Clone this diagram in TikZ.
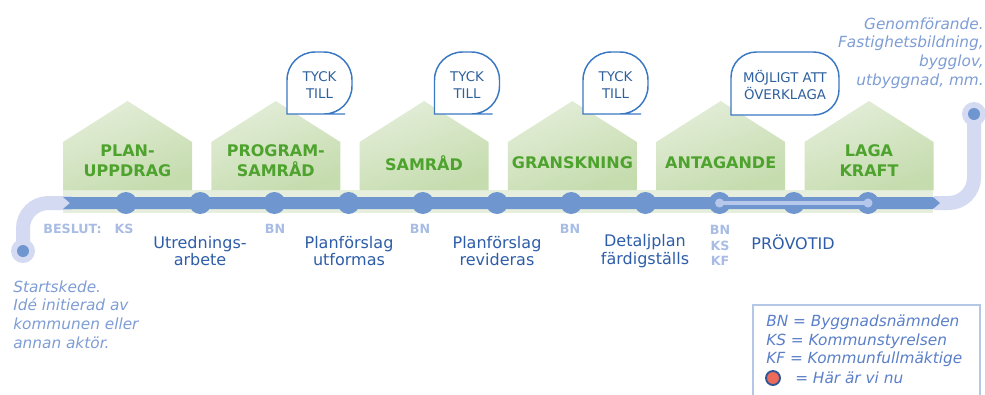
\documentclass[tikz,border=0pt]{standalone}
\usepackage{fontspec}
\setmainfont{DejaVu Sans}
\usepackage{tikz}

\definecolor{lineblue}{HTML}{6F96CF}
\definecolor{lavender}{HTML}{D3DAF1}
\definecolor{innerlight}{HTML}{B5C7EA}
\definecolor{bandgreen}{HTML}{E6EFDD}
\definecolor{houselight}{HTML}{E3EDD8}
\definecolor{housedark}{HTML}{C5DCAE}
\definecolor{housetext}{HTML}{4EA22E}
\definecolor{decision}{HTML}{A8BCE4}
\definecolor{textblue}{HTML}{2D5DA8}
\definecolor{bubbleblue}{HTML}{3A78C4}
\definecolor{notegrey}{HTML}{7E9DD5}
\definecolor{keyblue}{HTML}{5A7FC8}
\definecolor{keyframe}{HTML}{B4C7E7}
\definecolor{herered}{HTML}{EE6B5A}
\definecolor{herering}{HTML}{2F5597}

\begin{document}
\begin{tikzpicture}[x=0.75pt,y=-0.75pt,
  house/.style={top color=houselight, middle color=houselight, bottom color=housedark, shading angle=20},
  phase/.style={text=housetext, font=\fontsize{12}{15}\selectfont\bfseries, align=center},
  stop/.style={circle, fill=lineblue, minimum size=16.5pt, inner sep=0pt},
  track/.style={lavender, line width=10.5pt},
  who/.style={text=decision, font=\fontsize{9.5}{11.6}\selectfont\bfseries, align=center},
  work/.style={text=textblue, font=\fontsize{12}{13}\selectfont, align=center},
  bubble/.style={draw=bubbleblue, line width=1.1pt, fill=white},
  say/.style={text=bubbleblue!80!black, font=\fontsize{10}{12.75}\selectfont, align=center},
  note/.style={text=notegrey, font=\fontsize{11.5}{14}\selectfont\itshape, inner sep=0pt},
  key/.style={text=keyblue, font=\fontsize{11.5}{14}\selectfont\itshape, inner sep=0pt, align=left}]
\useasboundingbox (0,0) rectangle (985,394);

% green band and houses
\fill[bandgreen] (63,190) rectangle (933,213);
\foreach \i in {0,...,5}
  \shade[house] (63+148.3*\i,190) -- ++(0,-48) -- ++(64.5,-41) -- ++(64.5,41) -- ++(0,48) -- cycle;

\node[phase] (uppdrag) at (127.5,161) {PLAN-\\UPPDRAG};
\node[phase] (program) at (275.8,161) {PROGRAM-\\SAMRÅD};
\node[phase] (samrad) at (424,163) {SAMRÅD};
\node[phase] (granskning) at (572.4,163) {GRANSKNING};
\node[phase] (antagande) at (720.7,163) {ANTAGANDE};
\node[phase] (lagakraft) at (869,161) {LAGA\\KRAFT};

% start and end
\node[circle, fill=lavender, minimum size=18pt, inner sep=0pt] (start) at (23,251) {};
\node[circle, fill=lavender, minimum size=18pt, inner sep=0pt] (finish) at (974,114) {};
\coordinate (tail) at (72,203);
\coordinate (head) at (934,203);
\draw[track] (start.center) [rounded corners=19] -- (start.center |- tail) -- (tail);
\draw[track] (head) [rounded corners=19] -- (finish.center |- head) -- (finish.center);
\fill[lineblue] (start) circle (4.5pt);
\fill[lineblue] (finish) circle (4.5pt);

% timeline
\fill[lineblue] (63,197) -- (933,197) -- (940,203) -- (933,209) -- (63,209) -- (70,203) -- cycle;
\foreach \i in {0,...,10}
  \node[stop] (d\i) at (126+74.2*\i,203) {};
\draw[innerlight, line width=3pt] (d8.center) -- (d10.center);
\fill[innerlight] (d8) circle (3.4pt) (d10) circle (3.4pt);

% decisions
\node[who, anchor=east, inner sep=0pt] (beslut) at (102,229) {BESLUT:};
\node[who] (ks) at (124,229) {KS};
\node[who] (bn1) at (275,229) {BN};
\node[who] (bn2) at (420,229) {BN};
\node[who] (bn3) at (570,229) {BN};
\node[who] (bnkskf) at (720,245.5) {BN\\KS\\KF};

% work between decisions
\node[work] (utredning) at (200,251) {Utrednings-\\arbete};
\node[work] (utformas) at (349,251) {Planförslag\\utformas};
\node[work] (revideras) at (497,251) {Planförslag\\revideras};
\node[work] (detaljplan) at (645,251) {Detaljplan\\färdigställs};
\node[work] (provotid) at (793,242) {PRÖVOTID};

% bubbles
\foreach \x [count=\i] in {287,434.5,583} {
  \draw[bubble] (\x+30,114) -- (\x,114) -- (\x,83) [rounded corners=21] -- (\x,52) -- (\x+65,52) -- (\x+65,114) -- cycle;
  \node[say] (tyck\i) at (\x+32.5,85) {TYCK\\TILL};
}
\draw[bubble] (760,115) -- (731,115) -- (731,84) [rounded corners=19] -- (731,52) -- (839,52) -- (839,115) -- cycle;
\node[say] (overklaga) at (785,85) {MÖJLIGT ATT\\ÖVERKLAGA};

% notes
\node[note, anchor=west, align=left] (startskede) at (13,314.5) {Startskede.\\Idé initierad av\\kommunen eller\\annan aktör.};
\node[note, anchor=east, align=right] (genomforande) at (984,53) {Genomförande.\\Fastighetsbildning,\\bygglov,\\utbyggnad, mm.};

% legend
\draw[keyframe, line width=0.9pt] (753,400) -- (753,305) -- (980,305) -- (980,400);
\node[key, anchor=west] (legend) at (766,341) {BN = Byggnadsnämnden\\KS = Kommunstyrelsen\\KF = Kommunfullmäktige};
\node[circle, fill=herered, draw=herering, line width=1.4pt, minimum size=10.5pt, inner sep=0pt] (here) at (773,378) {};
\node[key, anchor=west] (herelabel) at (795,378) {= Här är vi nu};
\end{tikzpicture}
\end{document}
